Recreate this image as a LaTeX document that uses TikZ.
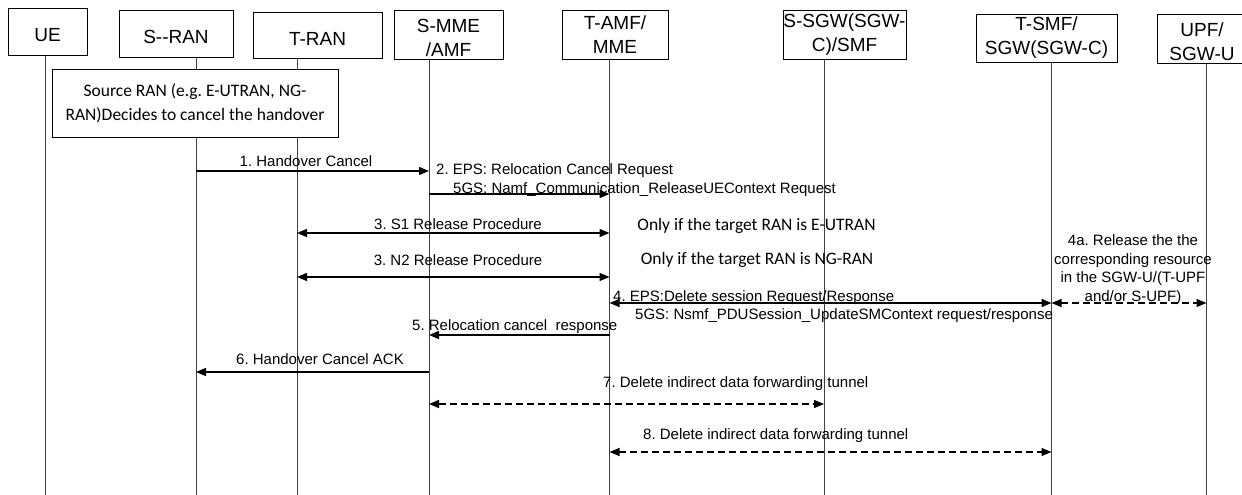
\documentclass[tikz,border=0pt]{standalone}
\usepackage{fontspec}
\setmainfont{Liberation Sans}
\newfontfamily\calib{Carlito}
\usetikzlibrary{arrows.meta}
\newcommand\hstrut{\rule{0pt}{21pt}}
\begin{document}
\frenchspacing
\begin{tikzpicture}[x=1pt,y=-1pt,
  hdr/.style={draw, line width=0.8pt, fill=white, inner sep=0pt, align=center, font=\fontsize{19}{24}\selectfont},
  life/.style={line width=0.9pt, draw=black!75},
  msg/.style={line width=1.3pt, -{Triangle[length=10pt,width=8pt]}},
  bimsg/.style={line width=1.3pt, {Triangle[length=10pt,width=8pt]}-{Triangle[length=10pt,width=8pt]}},
  dmsg/.style={bimsg, dash pattern=on 7pt off 4pt},
  lbl/.style={inner sep=0pt, font=\fontsize{15}{18.5}\selectfont},
  note/.style={inner sep=0pt, font=\calib\fontsize{17.5}{24}\selectfont}]
\useasboundingbox (0,0) rectangle (1242,495);
\fill[white] (0,0) rectangle (1242,495);

% lifeline tops
\coordinate (lue)   at (45,55);
\coordinate (lsran) at (196,57);
\coordinate (ltran) at (297,58);
\coordinate (lsmme) at (429,59);
\coordinate (ltamf) at (609.5,59);
\coordinate (lssgw) at (824,59);
\coordinate (ltsmf) at (1051.5,62);
\coordinate (lupf)  at (1206.5,63);
\foreach \l in {lue,lsran,ltran,lsmme,ltamf,lssgw,ltsmf,lupf}
  \draw[life] (\l) -- (\l |- 0,495);

% headers
\node[hdr, minimum width=79pt, minimum height=47pt] (ue) at (47.5,31.5) {\hstrut UE};
\node[hdr, minimum width=114pt, minimum height=47pt] (sran) at (176,33.5) {\hstrut S-{}-RAN};
\node[hdr, minimum width=129pt, minimum height=46pt] (tran) at (317.5,35) {\hstrut T-RAN};
\node[hdr, minimum width=109pt, minimum height=49pt] (smme) at (448.5,34.5) {\hstrut S-MME\\/AMF};
\node[hdr, minimum width=106pt, minimum height=49pt] (tamf) at (615,34.5) {T-AMF/\\MME};
\node[hdr, minimum width=123pt, minimum height=49pt] (ssgw) at (844.5,34.5) {S-SGW(SGW-\\C)/SMF};
\node[hdr, minimum width=141pt, minimum height=48pt] (tsmf) at (1046.5,38) {T-SMF/\\SGW(SGW-C)};
\node[hdr, minimum width=90pt, minimum height=49pt] (upf) at (1202,38.5) {\hstrut UPF/\\SGW-U};

% source RAN box
\node[draw, line width=0.8pt, fill=white, minimum width=286pt, minimum height=68pt, inner sep=0pt,
      align=center, font=\calib\fontsize{17.5}{24}\selectfont] (srcbox) at (195,103)
  {Source RAN (e.g. E-UTRAN, NG-\\RAN)Decides to cancel the handover};

% 1
\draw[msg] (lsran |- 0,171) -- (lsmme |- 0,171);
\node[lbl] (t1) at (306,161) {1. Handover Cancel};
% 2
\draw[msg] (lsmme |- 0,194) -- (ltamf |- 0,194);
\node[lbl, anchor=west] (t2a) at (436,171) {2. EPS: Relocation Cancel Request};
\node[lbl, anchor=west] (t2b) at (453,190) {5GS: Namf\_Communication\_ReleaseUEContext Request};
% 3
\draw[bimsg] (ltran |- 0,233) -- (ltamf |- 0,233);
\node[lbl] (t3a) at (458,224) {3. S1 Release Procedure};
\node[note] (n3a) at (756.5,226) {Only if the target RAN is E-UTRAN};
\draw[bimsg] (ltran |- 0,277) -- (ltamf |- 0,277);
\node[lbl] (t3b) at (458,260) {3. N2 Release Procedure};
\node[note] (n3b) at (757,260) {Only if the target RAN is NG-RAN};
% 4
\draw[bimsg, line width=1.7pt] (ltamf |- 0,303) -- (ltsmf |- 0,303);
\node[lbl, anchor=west] (t4a) at (613,298) {4. EPS:Delete session Request/Response};
\node[lbl, anchor=west] (t4b) at (635,316) {5GS: Nsmf\_PDUSession\_UpdateSMContext request/response};
% 4a
\draw[dmsg] (ltsmf |- 0,303) -- (lupf |- 0,303);
\node[lbl, align=center] (t4x) at (1133,269.5) {4a. Release the the\\corresponding resource\\in the SGW-U/(T-UPF\\and/or S-UPF)};
% 5
\draw[msg] (ltamf |- 0,335) -- (lsmme |- 0,335);
\node[lbl, anchor=west] (t5) at (412,327) {5. Relocation cancel\ \ response};
% 6
\draw[msg] (lsmme |- 0,372) -- (lsran |- 0,372);
\node[lbl] (t6) at (320,359) {6. Handover Cancel ACK};
% 7
\draw[dmsg] (lsmme |- 0,404) -- (lssgw |- 0,404);
\node[lbl, anchor=west] (t7) at (603,384) {7. Delete indirect data forwarding tunnel};
% 8
\draw[dmsg] (ltamf |- 0,452) -- (ltsmf |- 0,452);
\node[lbl, anchor=west] (t8) at (643,436) {8. Delete indirect data forwarding tunnel};
\end{tikzpicture}
\end{document}
